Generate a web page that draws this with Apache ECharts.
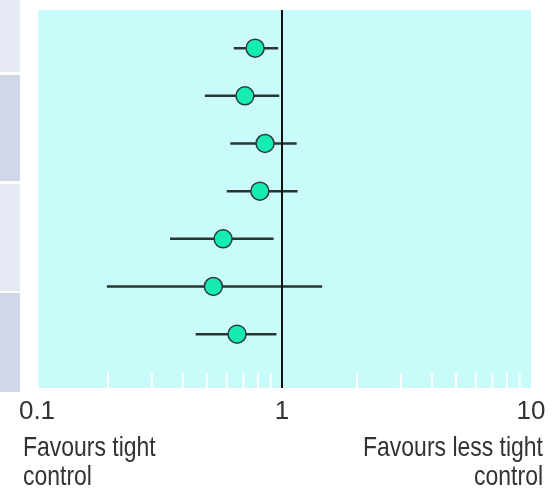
<!DOCTYPE html>
<html>
<head>
<meta charset="utf-8">
<script src="https://cdn.jsdelivr.net/npm/echarts@6/dist/echarts.min.js"></script>
<style>
html,body{margin:0;padding:0;background:#ffffff;}
#chart{width:556px;height:490px;}
</style>
</head>
<body>
<div id="chart"></div>
<script>
// Rows (top to bottom)
var rows = [1, 2, 3, 4, 5, 6, 7];
// Point estimates (odds/risk ratios)
var estimates = [0.78, 0.71, 0.855, 0.815, 0.58, 0.53, 0.66];
// Lower confidence limits
var lowerCI = [0.64, 0.49, 0.62, 0.60, 0.355, 0.198, 0.45];
// Upper confidence limits
var upperCI = [0.965, 0.975, 1.145, 1.155, 0.925, 1.45, 0.95];
// Axis tick labels
var tickLabels = ['0.1', '1', '10'];
// Minor tick positions on the log axis
var minorTicks = [0.2, 0.3, 0.4, 0.5, 0.6, 0.7, 0.8, 0.9, 2, 3, 4, 5, 6, 7, 8, 9];
// Bottom captions (line by line)
var leftCaption = ['Favours tight', 'control'];
var rightCaption = ['Favours less tight', 'control'];

var FONT = '"Liberation Sans", Arial, sans-serif';
var CAPFONT = '28px "Liberation Sans", Arial, sans-serif';

var whiskerData = rows.map(function (r, i) { return [lowerCI[i], upperCI[i], r]; });
var pointData = rows.map(function (r, i) { return [estimates[i], r]; });

var chart = echarts.init(document.getElementById('chart'), null, { renderer: 'canvas' });

function capText(txt, x, y, align) {
  return {
    type: 'text', x: x, y: y, scaleX: 0.82, scaleY: 1,
    style: { text: txt, font: CAPFONT, fill: '#333333', align: align, verticalAlign: 'middle' }
  };
}

var graphics = [
  { type: 'rect', shape: { x: 0, y: 0, width: 20, height: 72 }, style: { fill: '#E6EAF4' }, z: -1 },
  { type: 'rect', shape: { x: 0, y: 75, width: 20, height: 106 }, style: { fill: '#D0D8E8' }, z: -1 },
  { type: 'rect', shape: { x: 0, y: 184, width: 20, height: 107 }, style: { fill: '#E6EAF4' }, z: -1 },
  { type: 'rect', shape: { x: 0, y: 293, width: 20, height: 99 }, style: { fill: '#D0D8E8' }, z: -1 }
];
leftCaption.forEach(function (t, i) { graphics.push(capText(t, 23, 448 + i * 29, 'left')); });
rightCaption.forEach(function (t, i) { graphics.push(capText(t, 543, 448 + i * 29, 'right')); });

var option = {
  backgroundColor: '#ffffff',
  animation: false,
  grid: { left: 33, right: 25, top: 10, bottom: 102, containLabel: false },
  xAxis: {
    type: 'log',
    logBase: 10,
    min: 0.1,
    max: 10,
    axisLine: { show: false },
    axisTick: { show: false },
    splitLine: { show: false },
    axisLabel: {
      margin: 11,
      color: '#333333',
      fontSize: 26,
      fontFamily: FONT,
      formatter: function (v) {
        if (v < 0.5) return '{a|' + tickLabels[0] + '}';
        if (v < 5) return tickLabels[1];
        return tickLabels[2];
      },
      rich: {
        a: { fontSize: 26, fontFamily: FONT, color: '#333333', padding: [0, 0, 0, 8] }
      }
    }
  },
  yAxis: {
    type: 'value',
    inverse: true,
    min: 0.2,
    max: 8.13,
    show: false
  },
  graphic: graphics,
  series: [
    {
      type: 'custom',
      name: 'minorTicks',
      silent: true,
      z: 1,
      data: minorTicks.map(function (v) { return [v]; }),
      renderItem: function (params, api) {
        var p = api.coord([api.value(0), 8.13]);
        return {
          type: 'line',
          shape: { x1: p[0], y1: p[1] - 15, x2: p[0], y2: p[1] },
          style: { stroke: '#ffffff', lineWidth: 2 }
        };
      },
      markArea: {
        silent: true,
        itemStyle: { color: '#CAFBFB' },
        data: [[{ xAxis: 0.105 }, { xAxis: 10 }]]
      },
      markLine: {
        silent: true,
        symbol: ['none', 'none'],
        label: { show: false },
        lineStyle: { color: '#111111', width: 2, type: 'solid' },
        data: [{ xAxis: 1 }]
      }
    },
    {
      type: 'custom',
      name: 'ci',
      silent: true,
      z: 3,
      data: whiskerData,
      renderItem: function (params, api) {
        var a = api.coord([api.value(0), api.value(2)]);
        var b = api.coord([api.value(1), api.value(2)]);
        return {
          type: 'line',
          shape: { x1: a[0], y1: a[1], x2: b[0], y2: b[1] },
          style: { stroke: '#2b3333', lineWidth: 2.5 }
        };
      }
    },
    {
      type: 'scatter',
      name: 'estimate',
      z: 4,
      symbol: 'circle',
      symbolSize: 18,
      itemStyle: { color: '#14ECB4', borderColor: '#2b3a3a', borderWidth: 1.5, opacity: 1 },
      data: pointData
    }
  ]
};
chart.setOption(option);
</script>
</body>
</html>
